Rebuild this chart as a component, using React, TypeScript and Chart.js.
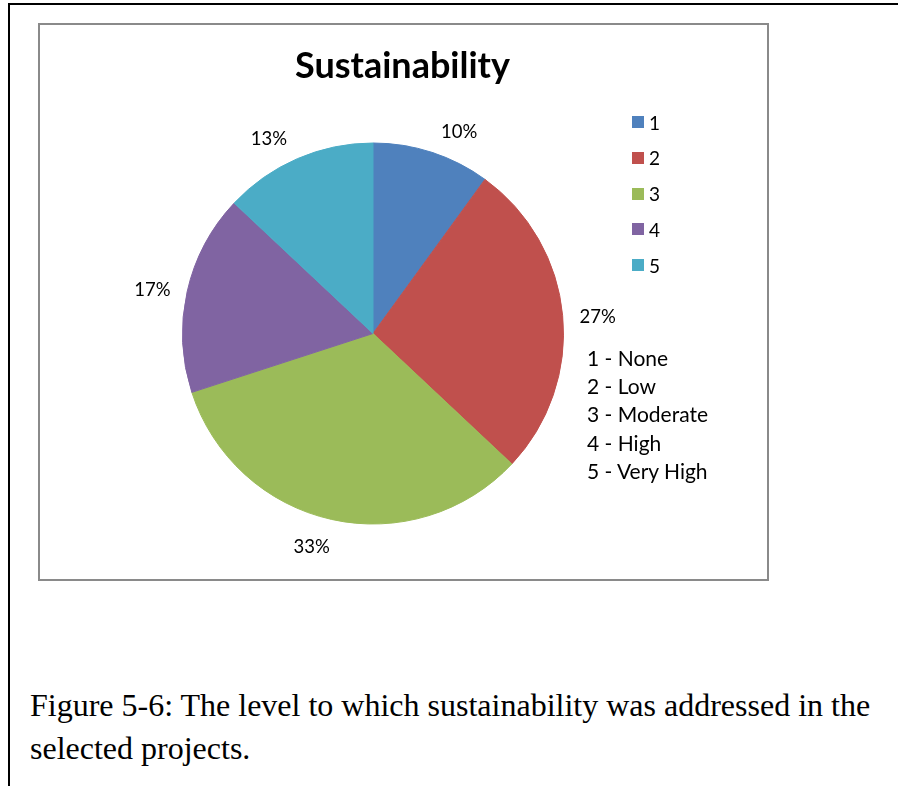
import React, { useEffect, useRef } from "react";
import { Chart, registerables } from "chart.js";

Chart.register(...registerables);

// Rating levels (1..5) and the share of projects at each level, in percent
const categories = ["1", "2", "3", "4", "5"];
const shares = [10, 27, 33, 17, 13];
const levelNames = ["None", "Low", "Moderate", "High", "Very High"];
const sliceColors = ["#4F81BD", "#C0504D", "#9BBB59", "#8064A2", "#4BACC6"];

const chartTitle = "Sustainability";
const captionLines = [
  "Figure 5-6: The level to which sustainability was addressed in the",
  "selected projects.",
];

const LABEL_FONT = "Lato, 'Noto Sans', sans-serif";

// Percentage labels placed just outside each slice, nudged sideways so the
// text clears the rim like spreadsheet "outside end" labels.
const outsideLabels = {
  id: "outsideLabels",
  afterDatasetsDraw(chart: any) {
    const ctx = chart.ctx as CanvasRenderingContext2D;
    const meta = chart.getDatasetMeta(0);
    const values = chart.data.datasets[0].data as number[];
    const size = 18.5;
    ctx.save();
    ctx.font = `${size}px ${LABEL_FONT}`;
    ctx.fillStyle = "#000000";
    ctx.textAlign = "center";
    ctx.textBaseline = "alphabetic";
    meta.data.forEach((arc: any, i: number) => {
      const p = arc.getProps(["x", "y", "startAngle", "endAngle", "outerRadius"], true);
      const mid = (p.startAngle + p.endAngle) / 2;
      const dx = Math.cos(mid);
      const dy = Math.sin(mid);
      const R = p.outerRadius + 11;
      const side = Math.sign(dx) * 24 * Math.min(1, Math.abs(dx) / 0.3);
      const cx = p.x + dx * R + side;
      const cy = p.y + dy * R + dy * 14 + 3;
      ctx.fillText(`${values[i]}%`, cx, cy + size * 0.36);
    });
    ctx.restore();
  },
};

function PieChart() {
  const ref = useRef<HTMLCanvasElement | null>(null);
  useEffect(() => {
    if (!ref.current) return;
    const chart = new Chart(ref.current, {
      type: "pie",
      data: {
        labels: categories,
        datasets: [
          {
            data: shares,
            backgroundColor: sliceColors,
            borderColor: sliceColors,
            borderWidth: 1,
            hoverOffset: 0,
            hoverBorderWidth: 0,
          },
        ],
      },
      options: {
        responsive: false,
        animation: false,
        events: [],
        layout: { padding: { left: 142, right: 201, top: 117.5, bottom: 52.5 } },
        plugins: {
          legend: { display: false },
          title: { display: false },
          tooltip: { enabled: false },
        },
      },
      plugins: [outsideLabels],
    });
    return () => chart.destroy();
  }, []);
  return (
    <canvas
      ref={ref}
      width={725}
      height={552}
      style={{ position: "absolute", left: 40, top: 25, width: 725, height: 552 }}
    />
  );
}

export default function App() {
  return (
    <div style={{ position: "absolute", left: 0, top: 0, width: 898, height: 786, background: "#fff", overflow: "hidden" }}>
      {/* page frame: black rule on the left and top */}
      <div
        style={{
          position: "absolute",
          left: 8,
          top: 3,
          width: 900,
          height: 800,
          borderLeft: "2px solid #000",
          borderTop: "2px solid #000",
        }}
      />
      {/* chart area box */}
      <div
        style={{
          position: "absolute",
          left: 38,
          top: 23,
          width: 727,
          height: 554,
          border: "2px solid #8a8a8a",
          boxSizing: "content-box",
        }}
      />
      <PieChart />
      <div
        style={{
          position: "absolute",
          left: 40,
          top: 46,
          width: 725,
          textAlign: "center",
          fontFamily: LABEL_FONT,
          fontWeight: 700,
          fontSize: 36,
          lineHeight: "36px",
          color: "#000",
        }}
      >
        {chartTitle}
      </div>
      {/* legend */}
      {categories.map((c, i) => (
        <div
          key={c}
          style={{
            position: "absolute",
            left: 632,
            top: 116 + i * 35.75,
            height: 12,
            display: "flex",
            alignItems: "center",
            fontFamily: LABEL_FONT,
            fontSize: 19,
            lineHeight: "19px",
            color: "#000",
            whiteSpace: "nowrap",
          }}
        >
          <span style={{ display: "inline-block", width: 12, height: 12, background: sliceColors[i], marginRight: 5 }} />
          <span>{c}</span>
        </div>
      ))}
      {/* level key */}
      <div
        style={{
          position: "absolute",
          left: 587,
          top: 344,
          fontFamily: LABEL_FONT,
          fontSize: 21,
          lineHeight: "28.2px",
          color: "#000",
          whiteSpace: "nowrap",
        }}
      >
        {categories.map((c, i) => (
          <div key={c}>{`${c} - ${levelNames[i]}`}</div>
        ))}
      </div>
      {/* figure caption */}
      <div
        style={{
          position: "absolute",
          left: 30,
          top: 684,
          fontFamily: "'Liberation Serif', 'Times New Roman', serif",
          fontSize: 32,
          lineHeight: "42.5px",
          color: "#000",
          whiteSpace: "nowrap",
        }}
      >
        {captionLines.map((l) => (
          <div key={l}>{l}</div>
        ))}
      </div>
    </div>
  );
}
